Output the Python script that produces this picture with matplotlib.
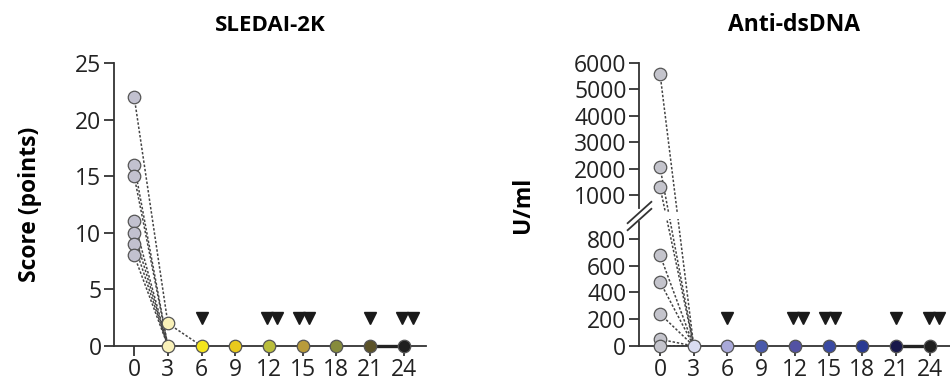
# SLEDAI-2K e anti-dsDNA ao longo do tempo (meses)

import numpy as np
import matplotlib
matplotlib.use('Agg')
import matplotlib.pyplot as plt

plt.rcParams['font.family'] = ['Open Sans', 'DejaVu Sans']

# Meses de acompanhamento
meses = [0, 3, 6, 9, 12, 15, 18, 21, 24]

# SLEDAI-2K por paciente: mês 0 -> mês 3
sledai_m0 = [22, 16, 15, 11, 10, 9, 8]
sledai_m3 = [2, 0, 0, 0, 0, 0, 0]
# paciente com 2 pontos no mês 3 -> mês 6
sledai_extra_x = [3, 6]
sledai_extra_y = [2, 0]
# valores do grupo nos meses 3..24
sledai_seg = [0, 0, 0, 0, 0, 0, 0, 0]
cores_sledai = ['#c2c1cf', '#f9f1b8', '#f4e51c', '#e9c91c', '#b9bd3c',
                '#b89b3a', '#868b3c', '#5b5229', '#1f1f1f']

# Anti-dsDNA (U/ml) por paciente: mês 0 -> mês 3
dna_m0 = [5600, 2050, 1300, 680, 480, 240, 50, 0]
dna_m3 = [0, 0, 0, 0, 0, 0, 0, 0]
dna_seg = [0, 0, 0, 0, 0, 0, 0, 0]
cores_dna = ['#c4c4cc', '#d9dcf1', '#a9a9d9', '#4a5aaa', '#5352a3',
             '#3a4aa2', '#293a92', '#18184a', '#1f1f1f']

# Triângulos (eventos) acima do eixo
triang_x = [6, 11.8, 12.7, 14.7, 15.6, 21, 23.9, 24.8]
triang_sledai = [2.5] * 8
triang_dna = [210] * 8

# Escala quebrada do anti-dsDNA
quebra_v = [-1000, 0, 900, 1000, 6000, 20000]
quebra_p = [-133.75, 0, 120.4, 151, 283, 652.6]


def fwd(v):
    return np.interp(v, quebra_v, quebra_p)


def inv(p):
    return np.interp(p, quebra_p, quebra_v)


fig = plt.figure(figsize=(9.5, 3.83), dpi=100)
ax1 = fig.add_axes([114 / 950, 1 - 346 / 383, 312 / 950, 283 / 383])
ax2 = fig.add_axes([639 / 950, 1 - 346 / 383, 311 / 950, 283 / 383])

linha = dict(color='#444444', lw=1.1, ls=(0, (1.6, 1.2)), zorder=2)
circ = dict(marker='o', ms=9, mec='#555555', mew=0.9, ls='none',
            clip_on=False, zorder=4)
tri = dict(marker='v', ms=9, color='#1a1a1a', ls='none', clip_on=False, zorder=4)

# --- SLEDAI-2K ---
for a, b in zip(sledai_m0, sledai_m3):
    ax1.plot([0, 3], [a, b], **linha)
ax1.plot(sledai_extra_x, sledai_extra_y, **linha)
ax1.plot([21, 24], [0, 0], color='#222222', lw=2.4, zorder=3, clip_on=False)
ax1.plot([0] * len(sledai_m0), sledai_m0, mfc=cores_sledai[0], **circ)
ax1.plot([3], [sledai_extra_y[0]], mfc=cores_sledai[1], **circ)
for m, v, c in zip(meses[1:], sledai_seg, cores_sledai[1:]):
    ax1.plot([m], [v], mfc=c, **circ)
ax1.plot(triang_x, triang_sledai, **tri)

ax1.set_xlim(-1.8, 26)
ax1.set_ylim(0, 25)
ax1.set_yticks([0, 5, 10, 15, 20, 25])
ax1.set_title('SLEDAI-2K', fontsize=16, fontweight='bold', pad=23)
ax1.set_ylabel('Score (points)', fontsize=16.5, fontweight='bold', labelpad=24)

# --- Anti-dsDNA ---
ax2.set_yscale('function', functions=(fwd, inv))
for a, b in zip(dna_m0, dna_m3):
    ax2.plot([0, 3], [a, b], **linha)
# falha das linhas na quebra do eixo
ax2.axhspan(922, 945, color='white', zorder=2.5, lw=0)
ax2.plot([21, 24], [0, 0], color='#222222', lw=2.4, zorder=3, clip_on=False)
ax2.plot([0] * len(dna_m0), dna_m0, mfc=cores_dna[0], **circ)
for m, v, c in zip(meses[1:], dna_seg, cores_dna[1:]):
    ax2.plot([m], [v], mfc=c, **circ)
ax2.plot(triang_x, triang_dna, **tri)

ax2.set_xlim(-1.87, 25.8)
ax2.set_ylim(0, 6000)
ax2.set_yticks([0, 200, 400, 600, 800, 1000, 2000, 3000, 4000, 5000, 6000])
ax2.set_title('Anti-dsDNA', fontsize=16.5, fontweight='bold', pad=23)
ax2.set_ylabel('U/ml', fontsize=16.5, fontweight='bold', labelpad=28)

# eixo y quebrado desenhado à mão
ax2.spines['left'].set_visible(False)
yt = ax2.get_yaxis_transform()
ax2.plot([0, 0], [0, 912], color='#333333', lw=1.3, transform=yt, clip_on=False)
ax2.plot([0, 0], [957, 6000], color='#333333', lw=1.3, transform=yt, clip_on=False)
for yq in [922, 946]:
    ax2.plot([0], [yq], marker=[(-1, -0.9), (1, 0.9)], ms=18, mew=1.3,
             color='#333333', ls='none', transform=yt, clip_on=False, zorder=5)

for ax in (ax1, ax2):
    ax.set_xticks(meses)
    ax.spines['top'].set_visible(False)
    ax.spines['right'].set_visible(False)
    for s in ('left', 'bottom'):
        ax.spines[s].set_linewidth(1.3)
        ax.spines[s].set_color('#333333')
    ax.tick_params(axis='both', direction='out', length=7, width=1.3,
                   color='#333333', labelsize=16.5, labelcolor='#222222')
    ax.tick_params(axis='y', pad=2)
    ax.tick_params(axis='x', pad=2)

plt.savefig('out.png', dpi=100)
plt.close()
print('Gráfico salvo: out.png')
